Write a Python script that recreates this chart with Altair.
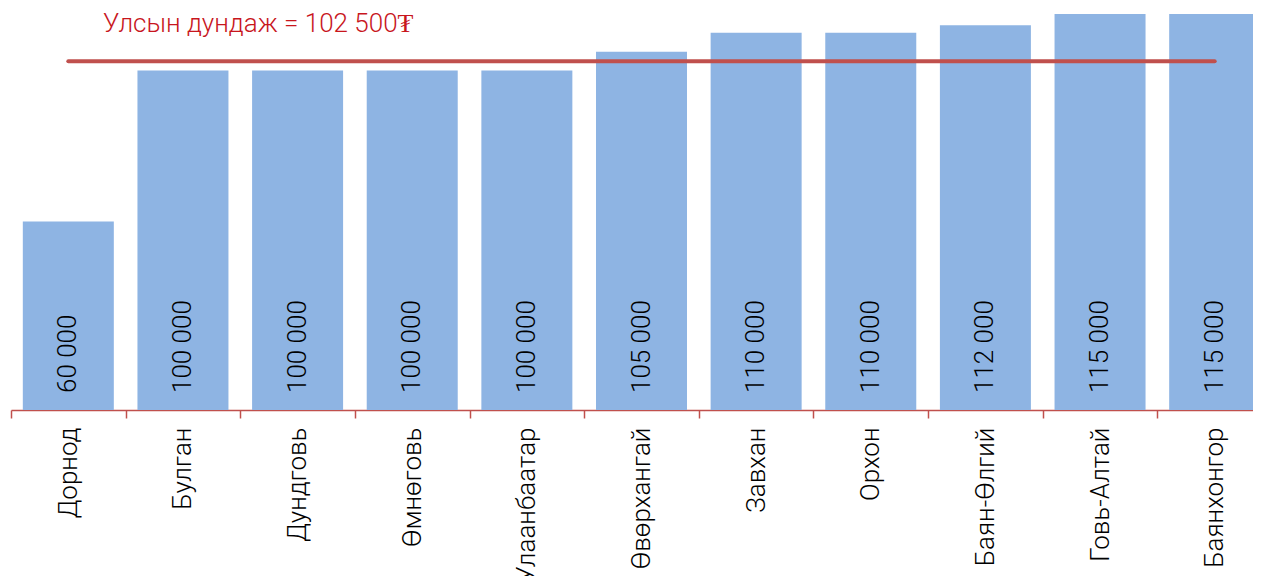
import altair as alt
import pandas as pd

regions = ["Дорнод", "Булган", "Дундговь", "Өмнөговь", "Улаанбаатар", "Өвөрхангай",
           "Завхан", "Орхон", "Баян-Өлгий", "Говь-Алтай", "Баянхонгор"]
values = [60000, 100000, 100000, 100000, 100000, 105000,
          110000, 110000, 112000, 115000, 115000]
national_avg = 102500
avg_label = "Улсын дундаж = 102 500₮"

df = pd.DataFrame({
    "region": regions,
    "value": values,
    "label": [f"{v:,}".replace(",", " ") for v in values],
    "avg": [national_avg] * len(regions),
})

FONT = "Roboto"

x = alt.X("region:N", sort=regions, title=None,
          scale=alt.Scale(range=[0, 1261], paddingInner=0, paddingOuter=0),
          axis=alt.Axis(labelAngle=-90, labelFont=FONT, labelFontSize=26, labelFontWeight=300,
                        labelColor="#000000", labelPadding=9, domainColor="#C0504D",
                        domainWidth=1.5, tickColor="#C0504D", tickWidth=1.5, tickSize=8,
                        tickBand="extent", grid=False, labelOverlap=False, labelLimit=0))
yscale = alt.Scale(domain=[10000, 115000], zero=False, nice=False)

base = alt.Chart(df)

bars = base.mark_bar(color="#8EB4E3", size=91).encode(
    x=x,
    y=alt.Y("value:Q", scale=yscale, axis=None),
    y2=alt.datum(10000),
)

vals = base.mark_text(angle=270, align="left", baseline="middle", dx=17,
                      font=FONT, fontSize=26, fontWeight=300, color="#000000").encode(
    x=alt.X("region:N", sort=regions),
    y=alt.datum(10000),
    text="label:N",
)

line = base.mark_line(color="#C0504D", strokeWidth=4, strokeCap="round").encode(
    x=alt.X("region:N", sort=regions),
    y=alt.Y("avg:Q", scale=yscale),
)

title_text = alt.Chart(pd.DataFrame({"t": [avg_label], "v": [national_avg]})).mark_text(
    align="left", baseline="middle", font=FONT, fontSize=26, fontWeight=300,
    color="#C8161D", dy=-37).encode(
    x=alt.value(92),
    y=alt.Y("v:Q", scale=yscale),
    text="t:N",
)

chart = (bars + vals + line + title_text).properties(
    width=1242, height=396,
    autosize=alt.AutoSizeParams(type="none"),
    padding={"left": 3, "top": 6, "right": 0, "bottom": 166},
).configure_view(strokeWidth=0, stroke="transparent")

chart.save("out.html", embed_options={"renderer": "svg", "actions": False})
